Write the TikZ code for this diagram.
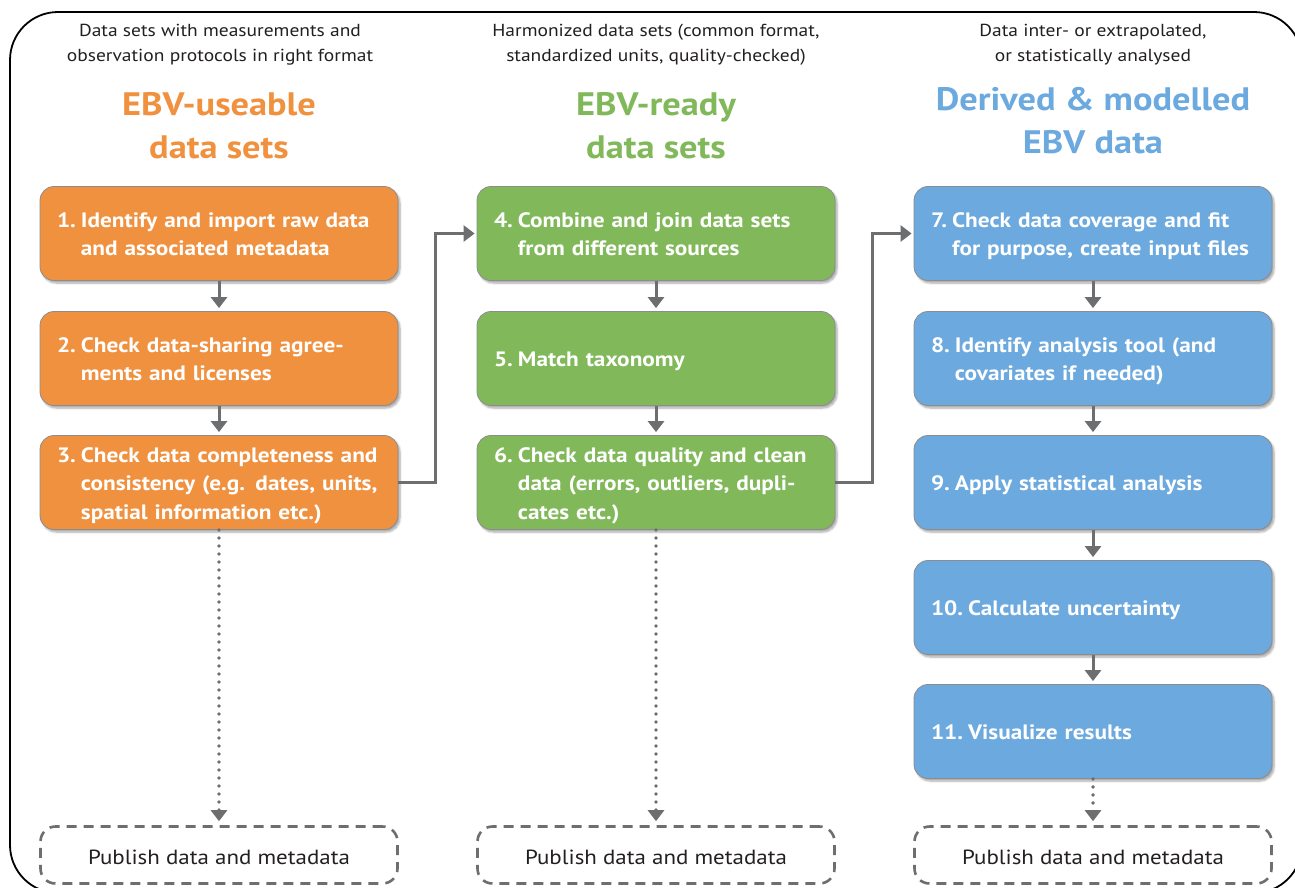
\documentclass[tikz,border=0pt]{standalone}
\usepackage{fontspec}
\setmainfont{PT Sans}[FakeStretch=1.12]
\usetikzlibrary{arrows.meta,shadows.blur}
\definecolor{cor}{RGB}{240,145,64}
\definecolor{cgr}{RGB}{129,185,90}
\definecolor{cbl}{RGB}{108,169,222}
\definecolor{carr}{RGB}{109,110,112}
\definecolor{ctxt}{RGB}{35,31,32}
\newcommand\stp[2]{\raisebox{-2.5pt}[\height][\depth]{\begin{tabular}{@{}l@{\hspace{5pt}}l@{}}#1&#2\end{tabular}}}
\tikzset{
  stepbox/.style={draw=black!45, line width=0.8pt, rounded corners=14pt,
    minimum width=358pt, minimum height=94pt, text width=324pt, inner xsep=17pt,
    align=left, text=white, font=\fontsize{20.8}{28.5}\selectfont\bfseries,
    blur shadow={shadow xshift=2pt, shadow yshift=-2.5pt, shadow blur steps=6, shadow opacity=35}},
  pubbox/.style={draw=carr, line width=2.6pt, dash pattern=on 10pt off 7pt, rounded corners=15pt,
    minimum width=357pt, minimum height=57pt, text=ctxt, font=\fontsize{20.5}{24}\selectfont},
  conn/.style={draw=carr, line width=3pt, -{Triangle[width=16pt,length=11pt]}},
  dotconn/.style={draw=carr, line width=3.8pt, line cap=round, dash pattern=on 0pt off 8pt,
    -{Triangle[width=16pt,length=11pt]}},
  hdr/.style={text=ctxt, align=center, font=\fontsize{17.4}{25}\selectfont},
  ttl/.style={align=center, font=\fontsize{32.5}{43}\selectfont\bfseries}
}
\begin{document}
\begin{tikzpicture}[x=1pt,y=-1pt]
\useasboundingbox (0,0) rectangle (1295,887);
\begin{scope}
\clip (0,0) rectangle (1295,887);
\draw[line width=1.8pt, rounded corners=48pt] (10,12) rectangle (1302,893);
\end{scope}

% headers
\node[hdr] (h1) at (220,45) {Data sets with measurements and\\observation protocols in right format};
\node[hdr] (h2) at (656,45) {Harmonized data sets (common format,\\standardized units, quality-checked)};
\node[hdr] (h3) at (1093,45) {Data inter- or extrapolated,\\or statistically analysed};

\node[ttl, text=cor] (t1) at (219,126) {EBV-useable\\data sets};
\node[ttl, text=cgr] (t2) at (656,126) {EBV-ready\\data sets};
\node[ttl, text=cbl] (t3) at (1093,121) {Derived \& modelled\\EBV data};

% column 1
\node[stepbox, fill=cor] (b1) at (219,233.5) {\stp{1.}{Identify and import raw data\\&and associated metadata}};
\node[stepbox, fill=cor] (b2) at (219,358.5) {\stp{2.}{Check data-sharing agree-\\&ments and licenses}};
\node[stepbox, fill=cor] (b3) at (219,482.5) {\stp{3.}{Check data completeness and\\&consistency (e.g. dates, units,\\&spatial information etc.)}};
\node[pubbox] (p1) at (219,855) {\raisebox{-2pt}[\height][\depth]{Publish data and metadata}};

% column 2
\node[stepbox, fill=cgr] (b4) at (656,233.5) {\stp{4.}{Combine and join data sets\\&from different sources}};
\node[stepbox, fill=cgr] (b5) at (656,358.5) {\stp{5.}{Match taxonomy}};
\node[stepbox, fill=cgr] (b6) at (656,482.5) {\stp{6.}{Check data quality and clean\\&data (errors, outliers, dupli-\\&cates etc.)}};
\node[pubbox] (p2) at (656,855) {\raisebox{-2pt}[\height][\depth]{Publish data and metadata}};

% column 3
\node[stepbox, fill=cbl] (b7) at (1093,233.5) {\stp{7.}{Check data coverage and fit\\&for purpose, create input files}};
\node[stepbox, fill=cbl] (b8) at (1093,358.5) {\stp{8.}{Identify analysis tool (and\\&covariates if needed)}};
\node[stepbox, fill=cbl] (b9) at (1093,482.5) {\stp{9.}{Apply statistical analysis}};
\node[stepbox, fill=cbl] (b10) at (1093,607.5) {\stp{10.}{Calculate uncertainty}};
\node[stepbox, fill=cbl] (b11) at (1093,731.5) {\stp{11.}{Visualize results}};
\node[pubbox] (p3) at (1093,855) {\raisebox{-2pt}[\height][\depth]{Publish data and metadata}};

% connectors
\draw[conn, shorten >=3pt] (b1) -- (b2);
\draw[conn, shorten >=3pt] (b2) -- (b3);
\draw[conn, shorten >=3pt] (b4) -- (b5);
\draw[conn, shorten >=3pt] (b5) -- (b6);
\draw[conn, shorten >=3pt] (b7) -- (b8);
\draw[conn, shorten >=3pt] (b8) -- (b9);
\draw[conn, shorten >=3pt] (b9) -- (b10);
\draw[conn, shorten >=3pt] (b10) -- (b11);
\draw[conn, shorten >=2pt] (b3.east) -- ++(37,0) |- (b4.west);
\draw[conn, shorten >=2pt] (b6.east) -- ++(37,0) |- (b7.west);
\draw[dotconn, shorten >=4pt] (b3) -- (p1);
\draw[dotconn, shorten >=4pt] (b6) -- (p2);
\draw[dotconn, shorten >=4pt] (b11) -- (p3);
\end{tikzpicture}
\end{document}
